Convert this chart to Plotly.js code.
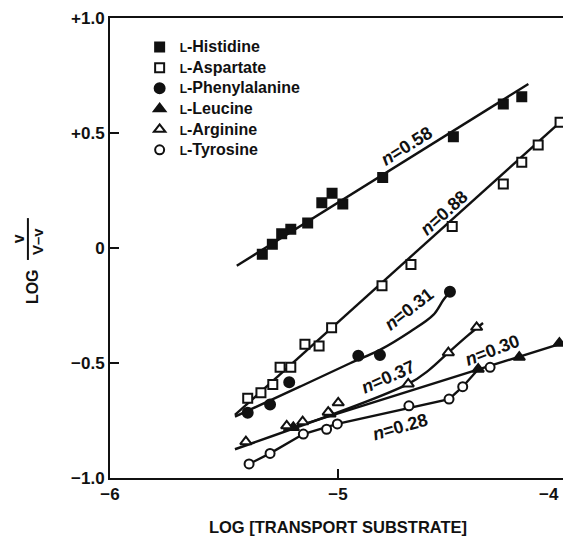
<!DOCTYPE html>
<html>
<head>
<meta charset="utf-8">
<script src="https://cdn.plot.ly/plotly-3.0.1.min.js"></script>
<style>
html,body{margin:0;padding:0;overflow:hidden;background:#fff;}
#chart{width:570px;height:538px;}
</style>
</head>
<body>
<div id="chart"></div>
<script>
// ---- data ----
const seriesNames = ['Histidine','Aspartate','Phenylalanine','Leucine','Arginine','Tyrosine'];

const hisX = [-5.332,-5.288,-5.247,-5.207,-5.133,-5.071,-5.026,-4.979,-4.804,-4.494,-4.275,-4.194];
const hisY = [-0.027,0.016,0.062,0.081,0.109,0.197,0.238,0.191,0.307,0.484,0.626,0.658];
const hisFitX = [-5.444,-4.165];
const hisFitY = [-0.077,0.713];

const aspX = [-5.396,-5.338,-5.286,-5.254,-5.207,-5.145,-5.083,-5.028,-4.807,-4.680,-4.499,-4.275,-4.194,-4.122,-4.026];
const aspY = [-0.653,-0.629,-0.593,-0.519,-0.519,-0.419,-0.426,-0.347,-0.164,-0.072,0.093,0.278,0.373,0.448,0.547];
const aspFitX = [-5.452,-4.0];
const aspFitY = [-0.726,0.570];

const pheX = [-5.396,-5.298,-5.214,-4.911,-4.816,-4.509];
const pheY = [-0.716,-0.680,-0.584,-0.468,-0.465,-0.190];
const pheCurveX = [-5.452,-5.167,-4.947,-4.816,-4.684,-4.582,-4.538,-4.509];
const pheCurveY = [-0.733,-0.603,-0.501,-0.443,-0.364,-0.291,-0.226,-0.190];

const leuX = [-5.196,-5.035,-4.385,-4.205,-4.029];
const leuY = [-0.780,-0.722,-0.527,-0.475,-0.414];
const leuFitX = [-5.24,-4.0];
const leuFitY = [-0.794,-0.409];

const argX = [-5.404,-5.225,-5.155,-5.043,-4.999,-4.692,-4.516,-4.392];
const argY = [-0.842,-0.773,-0.755,-0.714,-0.673,-0.591,-0.455,-0.345];
const argCurveX = [-5.452,-4.692,-4.600,-4.516,-4.430,-4.364];
const argCurveY = [-0.875,-0.591,-0.530,-0.455,-0.380,-0.326];

const tyrX = [-5.390,-5.298,-5.152,-5.050,-5.003,-4.689,-4.513,-4.453,-4.333];
const tyrY = [-0.939,-0.893,-0.809,-0.788,-0.765,-0.686,-0.657,-0.603,-0.519];
const tyrLineX = [-5.390,-5.298,-5.152,-5.003,-4.513,-4.453,-4.385];
const tyrLineY = [-0.939,-0.893,-0.809,-0.765,-0.657,-0.603,-0.527];

const nLabels = ['0.58','0.88','0.31','0.37','0.30','0.28'];

const xTickVals = [-6,-5,-4];
const xTickText = ['\u22126','\u22125','\u22124'];
const yTickVals = [-1,-0.5,0,0.5,1];
const yTickText = ['\u22121.0','\u22120.5','0','+0.5','+1.0'];

// ---- styling ----
const FONT = 'Liberation Sans, Arial, Helvetica, sans-serif';
const black = '#111';
const LW = 2.4;

function lineTrace(x, y, shape) {
  return {x: x, y: y, mode: 'lines', type: 'scatter', showlegend: false, hoverinfo: 'skip',
          line: {color: black, width: LW, shape: shape || 'linear', smoothing: 1}};
}
function markerTrace(name, x, y, symbol, filled, size) {
  return {x: x, y: y, mode: 'markers', type: 'scatter',
          name: '<span style="font-size:16px"><span style="font-size:12px">L</span>-' + name + '</span>',
          marker: {symbol: symbol, size: size, color: filled ? black : '#fff',
                   line: {color: black, width: 2}}};
}

const traces = [
  lineTrace(hisFitX, hisFitY),
  lineTrace(aspFitX, aspFitY),
  lineTrace(pheCurveX, pheCurveY, 'spline'),
  lineTrace(leuFitX, leuFitY),
  lineTrace(argCurveX, argCurveY, 'spline'),
  lineTrace(tyrLineX, tyrLineY),
  markerTrace(seriesNames[0], hisX, hisY, 'square', true, 9),
  markerTrace(seriesNames[1], aspX, aspY, 'square', false, 9),
  markerTrace(seriesNames[2], pheX, pheY, 'circle', true, 10),
  markerTrace(seriesNames[3], leuX, leuY, 'triangle-up', true, 10),
  markerTrace(seriesNames[4], argX, argY, 'triangle-up', false, 10),
  markerTrace(seriesNames[5], tyrX, tyrY, 'circle', false, 9)
];

const labelPos = [
  {x: -4.699, y: 0.445, a: -32},
  {x: -4.535, y: 0.151, a: -42},
  {x: -4.687, y: -0.267, a: -38},
  {x: -4.779, y: -0.562, a: -24},
  {x: -4.321, y: -0.443, a: -21},
  {x: -4.728, y: -0.780, a: -16}
];
const annotations = nLabels.map((v, i) => ({
  x: labelPos[i].x, y: labelPos[i].y, xref: 'x', yref: 'y',
  text: '<i>n</i>=' + v, showarrow: false, textangle: labelPos[i].a,
  xanchor: 'center', yanchor: 'middle',
  font: {family: FONT, size: 18, color: black, weight: 'bold'}
}));
// last x tick label, kept inside the visible window (the axis end lies at the window edge)
annotations.push({
  x: xTickVals[2], y: 0, xref: 'x', yref: 'paper', text: xTickText[2], showarrow: false,
  xanchor: 'right', yanchor: 'middle', xshift: -5, yshift: -16,
  font: {family: FONT, size: 17, color: black, weight: 'bold'}
});
// y-axis title: LOG v/(V−v)
annotations.push(
  {xref: 'paper', yref: 'paper', x: -0.171, y: 0.415, text: 'LOG', showarrow: false, textangle: -90,
   xanchor: 'center', yanchor: 'middle',
   font: {family: FONT, size: 16, color: black, weight: 'bold'}},
  {xref: 'paper', yref: 'paper', x: -0.201, y: 0.52, text: 'v', showarrow: false, textangle: -90,
   xanchor: 'center', yanchor: 'middle',
   font: {family: FONT, size: 16, color: black, weight: 'bold'}},
  {xref: 'paper', yref: 'paper', x: -0.160, y: 0.513, text: 'V\u2013v', showarrow: false, textangle: -90,
   xanchor: 'center', yanchor: 'middle',
   font: {family: FONT, size: 15, color: black, weight: 'bold'}}
);

const layout = {
  width: 570, height: 538,
  margin: {l: 110, r: 4, t: 18, b: 60},
  paper_bgcolor: '#fff', plot_bgcolor: '#fff',
  font: {family: FONT, color: black},
  showlegend: true,
  legend: {x: 0.065, y: 0.97, xanchor: 'left', yanchor: 'top', bgcolor: 'rgba(0,0,0,0)',
           font: {family: FONT, size: 13.5, color: black, weight: 'bold'}, tracegroupgap: 0},
  xaxis: {range: [-6, -4], tickvals: xTickVals.slice(0, 2), ticktext: xTickText.slice(0, 2),
          ticks: 'inside', ticklen: 9, tickwidth: 2,
          tickcolor: black, showline: true, linewidth: 2, linecolor: black, mirror: true, showgrid: false,
          zeroline: false,
          tickfont: {family: FONT, size: 17, color: black, weight: 'bold'},
          title: {text: 'LOG [TRANSPORT SUBSTRATE]', standoff: 18, font: {family: FONT, size: 16.5, color: black, weight: 'bold'}}},
  yaxis: {range: [-1, 1], tickvals: yTickVals, ticktext: yTickText, ticks: 'inside', ticklen: 9, tickwidth: 2,
          tickcolor: black, showline: true, linewidth: 2, linecolor: black, mirror: true, showgrid: false,
          zeroline: false, tickfont: {family: FONT, size: 17, color: black, weight: 'bold'}},
  annotations: annotations,
  shapes: [{type: 'line', xref: 'paper', yref: 'paper', x0: -0.180, x1: -0.180, y0: 0.474, y1: 0.565,
            line: {color: black, width: 2}}]
};

Plotly.newPlot('chart', traces, layout, {displayModeBar: false, staticPlot: true});
</script>
</body>
</html>
